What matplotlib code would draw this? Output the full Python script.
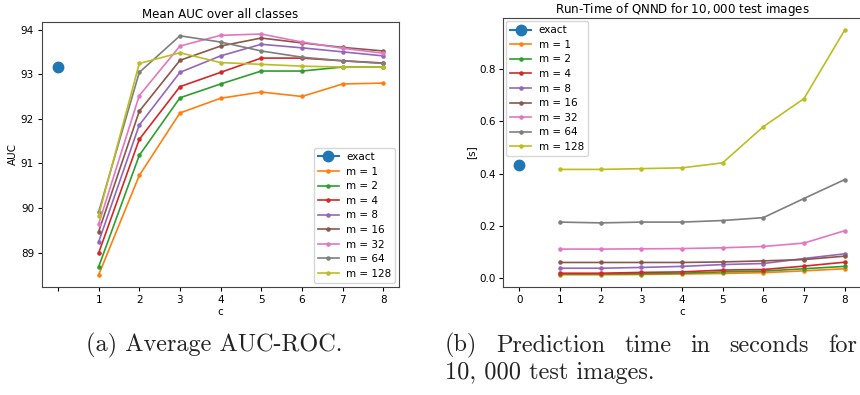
import numpy as np
import matplotlib
matplotlib.use("Agg")
import matplotlib.pyplot as plt

# data
c = [1, 2, 3, 4, 5, 6, 7, 8]
m_labels = ["m = 1", "m = 2", "m = 4", "m = 8", "m = 16", "m = 32", "m = 64", "m = 128"]

auc_exact = 93.15
auc_m1 = [88.50, 90.73, 92.13, 92.46, 92.60, 92.50, 92.78, 92.80]
auc_m2 = [88.68, 91.18, 92.47, 92.78, 93.07, 93.07, 93.16, 93.16]
auc_m4 = [88.99, 91.54, 92.72, 93.04, 93.36, 93.36, 93.30, 93.25]
auc_m8 = [89.24, 91.86, 93.04, 93.41, 93.67, 93.59, 93.50, 93.41]
auc_m16 = [89.47, 92.17, 93.31, 93.63, 93.81, 93.70, 93.60, 93.52]
auc_m32 = [89.64, 92.52, 93.63, 93.87, 93.90, 93.72, 93.58, 93.47]
auc_m64 = [89.91, 93.04, 93.86, 93.72, 93.52, 93.38, 93.30, 93.24]
auc_m128 = [89.83, 93.24, 93.48, 93.26, 93.22, 93.18, 93.16, 93.16]

t_exact = 0.433
t_m1 = [0.014, 0.014, 0.015, 0.017, 0.019, 0.022, 0.029, 0.037]
t_m2 = [0.017, 0.017, 0.018, 0.020, 0.025, 0.028, 0.037, 0.046]
t_m4 = [0.020, 0.020, 0.023, 0.025, 0.032, 0.034, 0.047, 0.062]
t_m8 = [0.039, 0.039, 0.042, 0.046, 0.053, 0.057, 0.076, 0.094]
t_m16 = [0.061, 0.061, 0.061, 0.061, 0.063, 0.067, 0.072, 0.085]
t_m32 = [0.112, 0.112, 0.113, 0.114, 0.117, 0.122, 0.135, 0.182]
t_m64 = [0.215, 0.212, 0.215, 0.215, 0.221, 0.232, 0.305, 0.377]
t_m128 = [0.416, 0.416, 0.419, 0.422, 0.441, 0.579, 0.686, 0.947]

auc_all = [auc_m1, auc_m2, auc_m4, auc_m8, auc_m16, auc_m32, auc_m64, auc_m128]
t_all = [t_m1, t_m2, t_m4, t_m8, t_m16, t_m32, t_m64, t_m128]

fs = 7.5
fig = plt.figure(figsize=(8.6, 3.95), dpi=100)
ax1 = fig.add_axes([0.0485, 0.2734, 0.416, 0.671])
ax2 = fig.add_axes([0.585, 0.2734, 0.416, 0.681])

leg_kw = dict(fontsize=fs, handlelength=2.0, labelspacing=0.44, borderpad=0.4,
              handletextpad=0.7)

# left: AUC
ax1.plot([0], [auc_exact], marker="o", markersize=7.5, label="exact")
for vals, lab in zip(auc_all, m_labels):
    ax1.plot(c, vals, marker=".", markersize=4.5, linewidth=1.2, label=lab)
ax1.set_xticks(range(0, 9))
ax1.set_xticklabels([""] + [str(x) for x in c])
ax1.set_title("Mean AUC over all classes", fontsize=8.6, pad=3)
ax1.set_xlabel("c", fontsize=fs, labelpad=2)
ax1.set_ylabel("AUC", fontsize=fs, labelpad=2)
ax1.tick_params(labelsize=fs, length=3, pad=2.5)
ax1.legend(loc="lower right", borderaxespad=0.4, **leg_kw)

# right: run time
ax2.plot([0], [t_exact], marker="o", markersize=7.5, label="exact")
for vals, lab in zip(t_all, m_labels):
    ax2.plot(c, vals, marker=".", markersize=4.5, linewidth=1.2, label=lab)
ax2.set_xticks(range(0, 9))
ax2.set_title("Run-Time of QNND for $10,000$ test images", fontsize=8.6, pad=3)
ax2.set_xlabel("c", fontsize=fs, labelpad=2)
ax2.set_ylabel("[s]", fontsize=fs, labelpad=2)
ax2.tick_params(labelsize=fs, length=3, pad=2.5)
ax2.legend(loc="upper left", borderaxespad=0.3, **leg_kw)

for ax in (ax1, ax2):
    for s in ax.spines.values():
        s.set_color("#444444")

# captions (LaTeX-like, line 1 of (b) justified between x0 and x1)
cap = dict(family="cmr10", fontsize=17.5, color="#222222", va="center", ha="left")
fig.text(86 / 860, 0.125, "(a) Average AUC-ROC.", **cap)

words_b = ["(b)", "Prediction", "time", "in", "seconds", "for"]
x0, x1 = 445, 857
fig.canvas.draw()
renderer = fig.canvas.get_renderer()
texts = [fig.text(0, 0.125, w, **cap) for w in words_b]
widths = [t.get_window_extent(renderer).width for t in texts]
gap = (x1 - x0 - sum(widths)) / (len(words_b) - 1)
x = x0
for t, w in zip(texts, widths):
    t.set_x(x / 860)
    x += w + gap
fig.text(x0 / 860, 0.056, "10, 000 test images.", **cap)

fig.savefig("out.png", dpi=100)
